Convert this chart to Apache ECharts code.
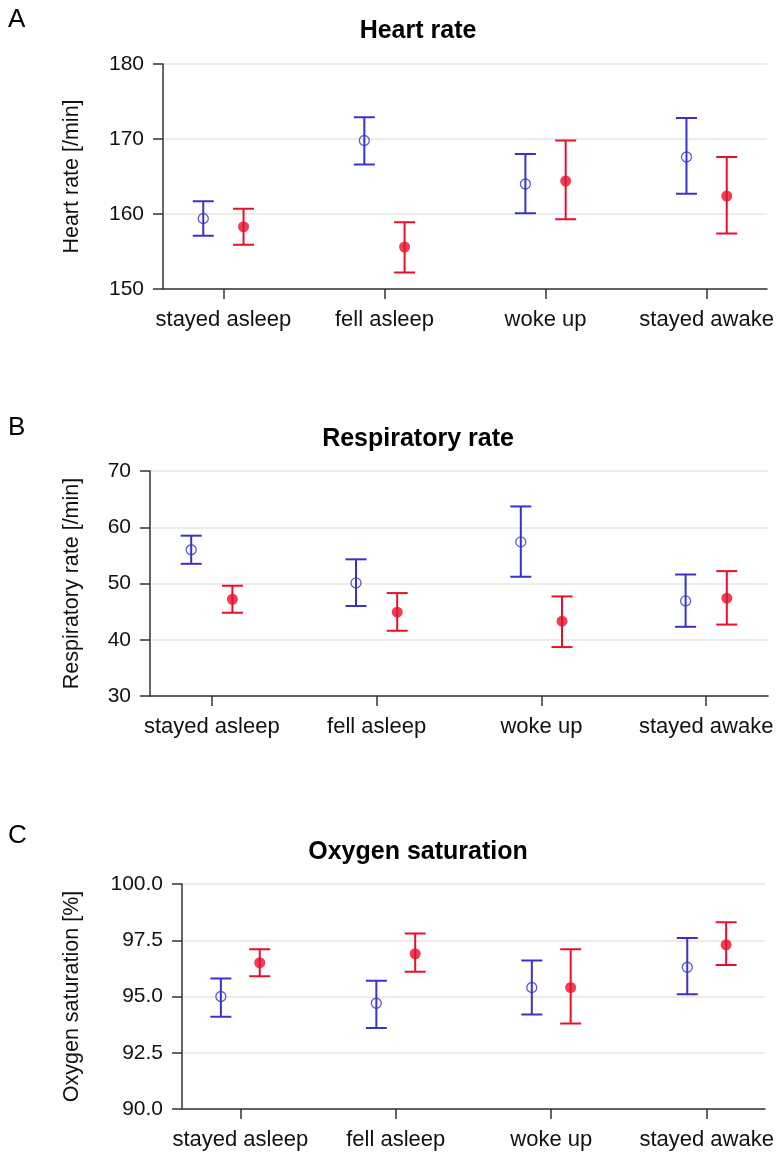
<!DOCTYPE html>
<html><head><meta charset="utf-8">
<script src="https://cdn.jsdelivr.net/npm/echarts@6/dist/echarts.min.js"></script>
<style>html,body{margin:0;padding:0;background:#fff}#c{width:782px;height:1164px}</style>
</head><body><div id="c"></div><script>
const categories = ['stayed asleep', 'fell asleep', 'woke up', 'stayed awake'];

// Panel A: Heart rate [/min]
const hrBlueMean = [159.4, 169.8, 164.0, 167.6];
const hrBlueLow  = [157.1, 166.6, 160.1, 162.7];
const hrBlueHigh = [161.7, 172.9, 168.0, 172.8];
const hrRedMean  = [158.3, 155.6, 164.4, 162.4];
const hrRedLow   = [155.9, 152.2, 159.3, 157.4];
const hrRedHigh  = [160.7, 158.9, 169.8, 167.6];
const hrTicks = [150, 160, 170, 180];

// Panel B: Respiratory rate [/min]
const rrBlueMean = [56.0, 50.1, 57.4, 46.9];
const rrBlueLow  = [53.5, 46.0, 51.2, 42.3];
const rrBlueHigh = [58.5, 54.3, 63.7, 51.6];
const rrRedMean  = [47.2, 44.9, 43.3, 47.4];
const rrRedLow   = [44.8, 41.6, 38.7, 42.7];
const rrRedHigh  = [49.6, 48.3, 47.7, 52.2];
const rrTicks = [30, 40, 50, 60, 70];

// Panel C: Oxygen saturation [%]
const osBlueMean = [95.0, 94.7, 95.4, 96.3];
const osBlueLow  = [94.1, 93.6, 94.2, 95.1];
const osBlueHigh = [95.8, 95.7, 96.6, 97.6];
const osRedMean  = [96.5, 96.9, 95.4, 97.3];
const osRedLow   = [95.9, 96.1, 93.8, 96.4];
const osRedHigh  = [97.1, 97.8, 97.1, 98.3];
const osTicks = [90.0, 92.5, 95.0, 97.5, 100.0];

const titles = ['Heart rate', 'Respiratory rate', 'Oxygen saturation'];
const yNames = ['Heart rate [/min]', 'Respiratory rate [/min]', 'Oxygen saturation [%]'];
const letters = ['A', 'B', 'C'];

const BLUE = '#3a32c8';
const RED = '#e80f2c';
const FONT = '"Liberation Sans", Arial, sans-serif';
const OFF = 0.125;

const panels = [
  {bm: hrBlueMean, bl: hrBlueLow, bh: hrBlueHigh, rm: hrRedMean, rl: hrRedLow, rh: hrRedHigh, ticks: hrTicks, dec: 0,
   grid: {left: 163, right: 15, top: 64, height: 225}, nameGap: 80, titleY: 31, letterY: 20},
  {bm: rrBlueMean, bl: rrBlueLow, bh: rrBlueHigh, rm: rrRedMean, rl: rrRedLow, rh: rrRedHigh, ticks: rrTicks, dec: 0,
   grid: {left: 150, right: 14, top: 471, height: 225}, nameGap: 67, titleY: 439, letterY: 428},
  {bm: osBlueMean, bl: osBlueLow, bh: osBlueHigh, rm: osRedMean, rl: osRedLow, rh: osRedHigh, ticks: osTicks, dec: 1,
   grid: {left: 182, right: 17, top: 884, height: 225}, nameGap: 99, titleY: 852, letterY: 836}
];

function errRender(color) {
  return function (params, api) {
    const x = api.value(0), lo = api.value(1), hi = api.value(2);
    const pLo = api.coord([x, lo]), pHi = api.coord([x, hi]);
    const hw = 10.5;
    const style = {stroke: color, lineWidth: 2, fill: null};
    return {type: 'group', children: [
      {type: 'line', shape: {x1: pLo[0], y1: pLo[1], x2: pHi[0], y2: pHi[1]}, style: style},
      {type: 'line', shape: {x1: pLo[0] - hw, y1: pLo[1], x2: pLo[0] + hw, y2: pLo[1]}, style: style},
      {type: 'line', shape: {x1: pHi[0] - hw, y1: pHi[1], x2: pHi[0] + hw, y2: pHi[1]}, style: style}
    ]};
  };
}

const grid = [], xAxis = [], yAxis = [], series = [], graphic = [];
panels.forEach(function (p, i) {
  grid.push(p.grid);
  xAxis.push({
    type: 'value', gridIndex: i, min: -0.375, max: 3.375,
    splitLine: {show: false},
    axisLine: {show: true, onZero: false, lineStyle: {color: '#333', width: 1.5}},
    axisTick: {show: true, customValues: [0, 1, 2, 3], length: 10, lineStyle: {color: '#333', width: 1.5}},
    axisLabel: {customValues: [0, 1, 2, 3], formatter: function (v) { return categories[Math.round(v)]; },
      fontSize: 22, fontFamily: FONT, color: '#111', margin: 20}
  });
  const t = p.ticks;
  yAxis.push({
    type: 'value', gridIndex: i, min: t[0], max: t[t.length - 1], interval: t[1] - t[0],
    name: yNames[i], nameLocation: 'middle', nameGap: p.nameGap, nameRotate: 90,
    nameTextStyle: {fontSize: 21.5, fontFamily: FONT, color: '#111'},
    axisLine: {show: true, onZero: false, lineStyle: {color: '#333', width: 1.5}},
    axisTick: {show: true, length: 10, lineStyle: {color: '#333', width: 1.5}},
    axisLabel: {fontSize: 21, fontFamily: FONT, color: '#111', margin: 19,
      formatter: function (v) { return v.toFixed(p.dec); }},
    splitLine: {show: true, lineStyle: {color: '#e6e6e6', width: 1.5}}
  });
  const blueErr = p.bm.map(function (m, k) { return [k - OFF, p.bl[k], p.bh[k]]; });
  const redErr = p.rm.map(function (m, k) { return [k + OFF, p.rl[k], p.rh[k]]; });
  series.push({type: 'custom', xAxisIndex: i, yAxisIndex: i, renderItem: errRender(BLUE), data: blueErr, z: 2});
  series.push({type: 'custom', xAxisIndex: i, yAxisIndex: i, renderItem: errRender(RED), data: redErr, z: 2});
  series.push({type: 'scatter', xAxisIndex: i, yAxisIndex: i, symbol: 'circle', symbolSize: 10,
    itemStyle: {color: 'rgba(0,0,0,0)', borderColor: BLUE, borderWidth: 1.3}, z: 3,
    data: p.bm.map(function (m, k) { return [k - OFF, m]; })});
  series.push({type: 'scatter', xAxisIndex: i, yAxisIndex: i, symbol: 'circle', symbolSize: 11,
    itemStyle: {color: RED}, z: 3,
    data: p.rm.map(function (m, k) { return [k + OFF, m]; })});
  graphic.push({type: 'text', x: 418, y: p.titleY,
    style: {text: titles[i], font: 'bold 25px ' + FONT, fill: '#000', align: 'center', verticalAlign: 'middle'}});
  graphic.push({type: 'text', x: 8, y: p.letterY,
    style: {text: letters[i], font: '26px ' + FONT, fill: '#000', align: 'left', verticalAlign: 'middle'}});
});

const chart = echarts.init(document.getElementById('c'), null, {renderer: 'canvas'});
chart.setOption({
  animation: false,
  backgroundColor: '#fff',
  grid: grid, xAxis: xAxis, yAxis: yAxis, series: series, graphic: graphic
});
</script></body></html>
